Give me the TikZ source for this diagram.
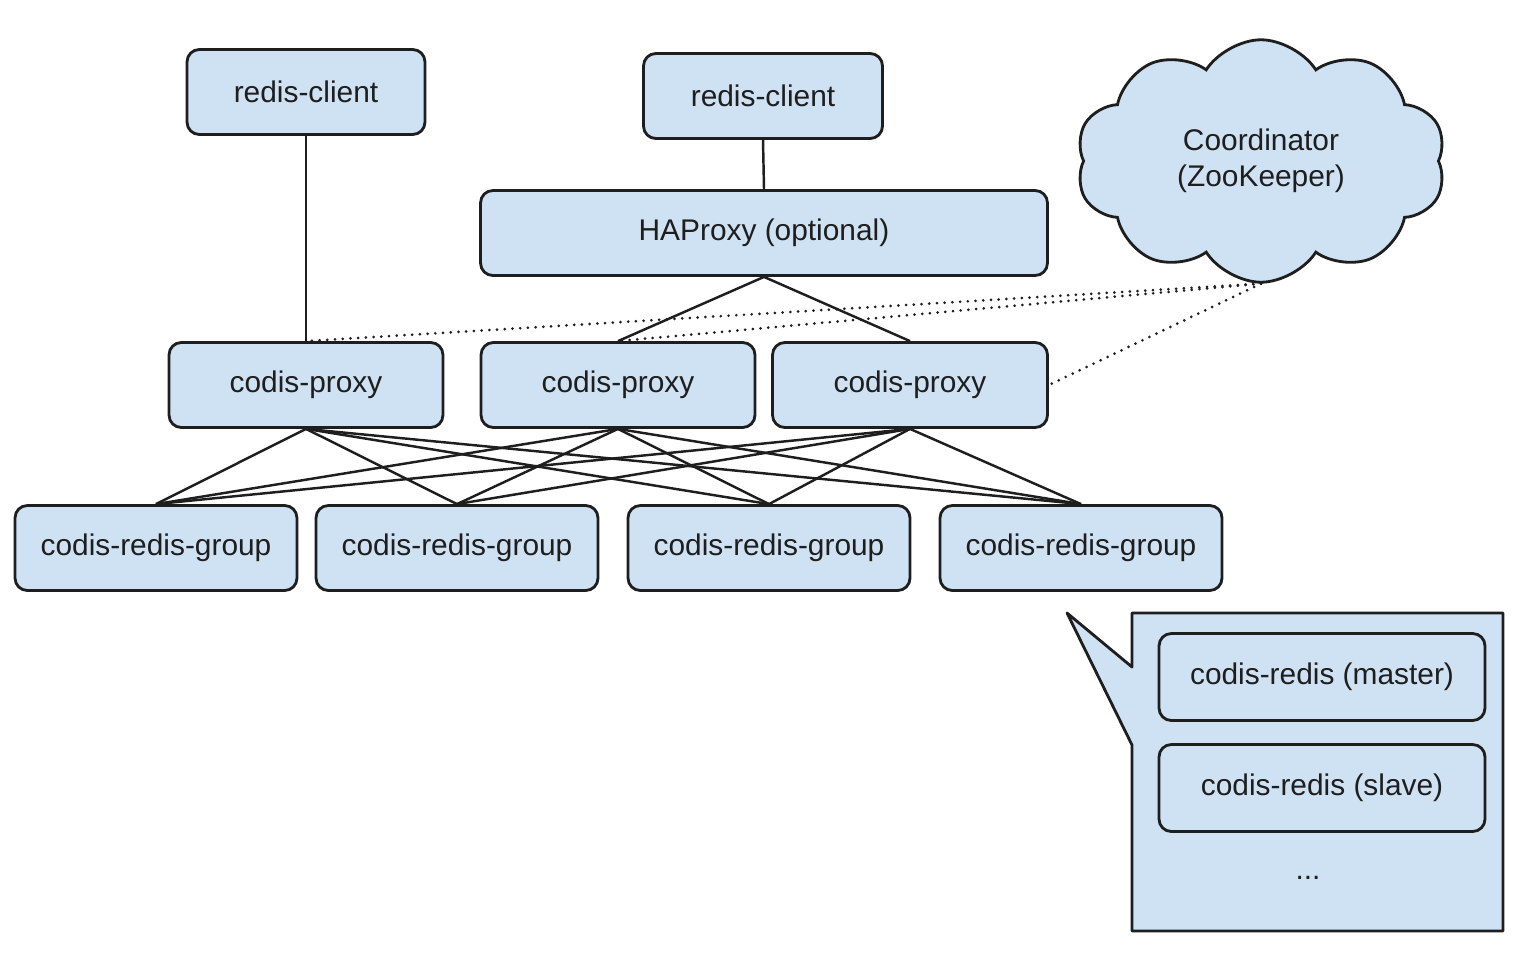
\documentclass[tikz,border=0pt]{standalone}
\usepackage{fontspec}
\setmainfont{Liberation Sans}
\definecolor{mBlue}{HTML}{CFE2F3}
\definecolor{mInk}{HTML}{1E1E1E}
\usetikzlibrary{shapes.symbols}

\begin{document}
\begin{tikzpicture}[x=0.02cm, y=-0.02cm,
  box/.style={draw=mInk, fill=mBlue, line width=1.6pt, rounded corners=7pt,
    minimum height=1.7cm, font=\fontsize{17}{20}\selectfont, text=mInk},
  link/.style={mInk, line width=1.4pt},
  zklink/.style={mInk, line width=1.7pt, line cap=round, dash pattern=on 0pt off 4.4pt}]
  \useasboundingbox (0,0) rectangle (1530,970);
  % clients and haproxy
  \node[box, minimum width=4.76cm] (client1) at (306,92) {redis-client};
  \node[box, minimum width=4.78cm] (client2) at (763,96) {redis-client};
  \node[box, minimum width=11.34cm] (haproxy) at (764,233) {HAProxy (optional)};
  % proxies
  \node[box, minimum width=5.48cm] (proxy1) at (306,385) {codis-proxy};
  \node[box, minimum width=5.48cm] (proxy2) at (618,385) {codis-proxy};
  \node[box, minimum width=5.5cm] (proxy3) at (910,385) {codis-proxy};
  % groups
  \foreach \gx [count=\i] in {156,457,769,1081}
    \node[box, minimum width=5.64cm] (group\i) at (\gx,548) {codis-redis-group};
  % coordinator
  \node[cloud, cloud puffs=10, cloud puff arc=115, aspect=1.55, inner sep=0pt,
        draw=mInk, fill=mBlue, line width=1.6pt,
        minimum width=7.4cm, minimum height=4.85cm,
        align=center, font=\fontsize{17}{20.5}\selectfont, text=mInk]
       (zk) at (1261,161) {Coordinator\\(ZooKeeper)};
  % links
  \draw[link] (client1.south) -- (proxy1.north);
  \draw[link] (client2.south) -- (haproxy.north);
  \draw[link] (proxy2.north) -- (haproxy.south) -- (proxy3.north);
  \foreach \p in {1,2,3}
    \foreach \g in {1,...,4}
      \draw[link] (proxy\p.south) -- (group\g.north);
  \draw[zklink] (zk.south) -- (proxy1.north);
  \draw[zklink] (zk.south) -- (proxy2.north);
  \draw[zklink] (zk.south) -- (proxy3.east);
  % group detail
  \coordinate (tip) at (1067,613);
  \draw[mInk, fill=mBlue, line width=1.6pt, line join=round]
    (1132,613) -- (1503,613) -- (1503,931) -- (1132,931) -- (1132,745)
    -- (tip) -- (1132,667) -- cycle;
  \node[box, minimum width=6.52cm, minimum height=1.74cm] (master) at (1322,677) {codis-redis (master)};
  \node[box, minimum width=6.52cm, minimum height=1.74cm] (slave) at (1322,788) {codis-redis (slave)};
  \node[font=\fontsize{17}{20}\selectfont, text=mInk] (more) at (1308,878) {...};
\end{tikzpicture}
\end{document}
